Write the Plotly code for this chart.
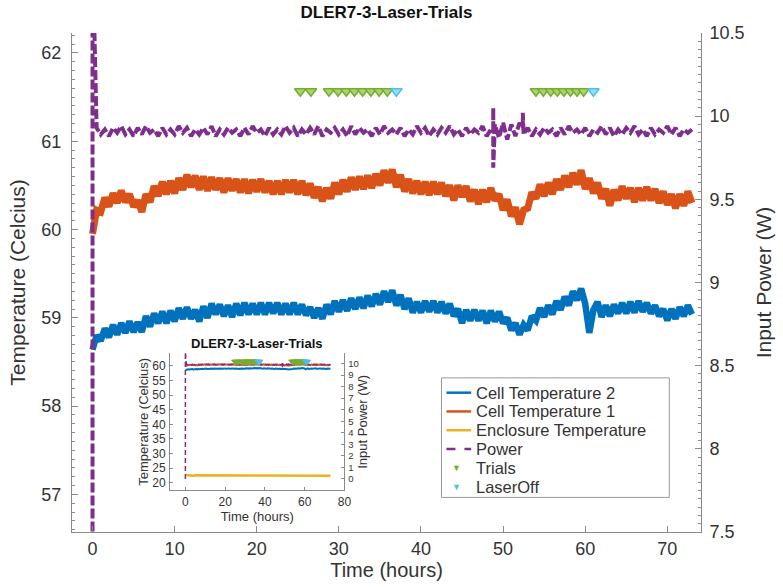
import plotly.graph_objects as go

# ---------------- data ----------------
step_h = 0.5  # sampling of the typed series, hours

cell_temp_1 = [
    59.95, 60.22, 60.20, 60.36, 60.26, 60.41, 60.30, 60.44, 60.31, 60.40,
    60.26, 60.33, 60.20, 60.40, 60.31, 60.49, 60.38, 60.54, 60.40, 60.55,
    60.41, 60.58, 60.45, 60.62, 60.48, 60.61, 60.45, 60.60, 60.44, 60.59,
    60.45, 60.58, 60.42, 60.58, 60.44, 60.57, 60.42, 60.57, 60.41, 60.56,
    60.43, 60.57, 60.42, 60.55, 60.40, 60.55, 60.40, 60.56, 60.42, 60.56,
    60.40, 60.55, 60.39, 60.52, 60.36, 60.48, 60.32, 60.47, 60.35, 60.53,
    60.40, 60.56, 60.43, 60.59, 60.45, 60.60, 60.46, 60.61, 60.47, 60.63,
    60.50, 60.67, 60.53, 60.68, 60.48, 60.62, 60.43, 60.57, 60.41, 60.55,
    60.40, 60.54, 60.39, 60.54, 60.40, 60.53, 60.38, 60.50, 60.33, 60.50,
    60.37, 60.49, 60.32, 60.45, 60.29, 60.45, 60.31, 60.47, 60.33, 60.40,
    60.22, 60.34, 60.15, 60.25, 60.06, 60.22, 60.24, 60.42, 60.35, 60.51,
    60.38, 60.53, 60.40, 60.57, 60.45, 60.61, 60.48, 60.64, 60.51, 60.67,
    60.46, 60.58, 60.41, 60.53, 60.35, 60.46, 60.27, 60.45, 60.33, 60.49,
    60.35, 60.47, 60.31, 60.47, 60.33, 60.48, 60.33, 60.46, 60.30, 60.43,
    60.28, 60.40, 60.24, 60.40, 60.27, 60.43, 60.30,
]

cell_temp_2 = [
    58.64, 58.80, 58.74, 58.88, 58.78, 58.92, 58.81, 58.94, 58.83, 58.96,
    58.84, 58.95, 58.84, 59.02, 58.90, 59.05, 58.94, 59.07, 58.94, 59.08,
    58.96, 59.11, 58.99, 59.12, 58.99, 59.09, 58.96, 59.13, 59.00, 59.16,
    59.04, 59.15, 59.02, 59.14, 59.01, 59.16, 59.03, 59.17, 59.04, 59.16,
    59.04, 59.17, 59.04, 59.17, 59.05, 59.17, 59.04, 59.16, 59.04, 59.17,
    59.04, 59.15, 59.03, 59.12, 59.00, 59.11, 58.99, 59.15, 59.04, 59.19,
    59.07, 59.20, 59.08, 59.22, 59.10, 59.23, 59.11, 59.25, 59.13, 59.27,
    59.15, 59.30, 59.18, 59.31, 59.14, 59.26, 59.10, 59.22, 59.06, 59.18,
    59.06, 59.19, 59.07, 59.19, 59.06, 59.18, 59.05, 59.16, 59.02, 59.10,
    58.94, 59.09, 58.97, 59.09, 58.97, 59.08, 58.94, 59.08, 58.96, 59.07,
    58.94, 59.00, 58.86, 58.94, 58.81, 58.92, 58.86, 59.02, 58.97, 59.11,
    59.01, 59.14, 59.04, 59.19, 59.09, 59.24, 59.14, 59.30, 59.20, 59.33,
    59.16, 58.83, 59.09, 59.18, 59.01, 59.14, 59.02, 59.15, 59.05, 59.17,
    59.05, 59.18, 59.06, 59.19, 59.07, 59.17, 59.05, 59.14, 59.02, 59.10,
    58.97, 59.10, 58.99, 59.12, 59.02, 59.14, 59.04,
]

enclosure_step_h = 1.0
enclosure_temp = [
    22.6, 22.5, 22.5, 22.4, 22.4, 22.5, 22.5, 22.4, 22.4, 22.3,
    22.3, 22.4, 22.4, 22.5, 22.5, 22.5, 22.4, 22.4, 22.3, 22.3,
    22.4, 22.4, 22.5, 22.5, 22.5, 22.4, 22.4, 22.4, 22.3, 22.3,
    22.4, 22.4, 22.5, 22.5, 22.5, 22.5, 22.4, 22.4, 22.3, 22.3,
    22.4, 22.4, 22.5, 22.5, 22.4, 22.4, 22.4, 22.3, 22.3, 22.4,
    22.4, 22.5, 22.5, 22.5, 22.4, 22.4, 22.3, 22.3, 22.4, 22.4,
    22.5, 22.5, 22.4, 22.4, 22.4, 22.3, 22.3, 22.4, 22.4, 22.5,
    22.5, 22.4, 22.4, 22.4,
]

# power sampled every 0.5 h starting at 0.5 h
power_w = [
    9.93, 9.89, 9.92, 9.88, 9.93, 9.90, 9.94, 9.89, 9.92, 9.88,
    9.93, 9.89, 9.94, 9.90, 9.92, 9.88, 9.93, 9.89, 9.92, 9.89,
    9.94, 9.90, 9.93, 9.88, 9.92, 9.89, 9.93, 9.89, 9.94, 9.88,
    9.92, 9.89, 9.93, 9.90, 9.92, 9.88, 9.93, 9.89, 9.94, 9.90,
    9.92, 9.88, 9.93, 9.89, 9.92, 9.89, 9.94, 9.90, 9.93, 9.88,
    9.92, 9.89, 9.93, 9.89, 9.94, 9.88, 9.92, 9.90, 9.93, 9.89,
    9.92, 9.88, 9.94, 9.89, 9.93, 9.90, 9.92, 9.88, 9.93, 9.89,
    9.94, 9.90, 9.92, 9.89, 9.93, 9.88, 9.92, 9.89, 9.94, 9.90,
    9.93, 9.88, 9.92, 9.89, 9.93, 9.90, 9.94, 9.89, 9.92, 9.88,
    9.93, 9.89, 9.92, 9.90, 9.94, 9.88, 9.92,
    9.95, 9.87, 9.96, 9.86, 9.95, 9.88, 9.96,
    9.89, 9.93, 9.88, 9.92, 9.89, 9.93, 9.90, 9.92, 9.88, 9.93,
    9.89, 9.94, 9.90, 9.92, 9.89, 9.93, 9.88, 9.92, 9.90, 9.94,
    9.89, 9.93, 9.88, 9.92, 9.89, 9.93, 9.90, 9.94, 9.89, 9.92,
    9.88, 9.93, 9.89, 9.92, 9.90, 9.94, 9.89, 9.93, 9.88, 9.92,
    9.90, 9.92,
]
# switch-on and glitch events in the power record
power_event_time = [0.0, 0.0, 48.8, 48.8, 48.8, 52.4, 52.4]
power_event_w = [0.0, 11.0, 9.91, 10.05, 9.69, 9.93, 10.02]

trials_time = [25.3, 26.6, 28.8, 29.9, 30.9, 31.9, 32.9, 33.9, 34.9, 35.9,
               54.0, 54.9, 55.8, 56.6, 57.4, 58.2, 59.0, 59.8]
laseroff_time = [37.0, 61.0]
marker_level_w = 10.15

legend_labels = ["Cell Temperature 2", "Cell Temperature 1", "Enclosure Temperature",
                 "Power", "Trials", "LaserOff"]

# ---------------- derived series ----------------
t_temp1 = [i * step_h for i in range(len(cell_temp_1))]
t_temp2 = [i * step_h for i in range(len(cell_temp_2))]
t_encl = [i * enclosure_step_h for i in range(len(enclosure_temp))]
t_pow_grid = [(i + 1) * step_h for i in range(len(power_w))]
pw = sorted(list(zip(power_event_time, power_event_w)) + list(zip(t_pow_grid, power_w)),
            key=lambda p: p[0])
t_power = [p[0] for p in pw]
v_power = [p[1] for p in pw]

C_BLUE = "#0072BD"
C_ORANGE = "#D95319"
C_YELLOW = "#EDB120"
C_PURPLE = "#7E2F8E"
C_GREEN = "#77AC30"
C_CYAN = "#4DBEEE"
F_GREEN = "#A6D66B"
F_CYAN = "#9ADDF7"
TXT = "#333333"
AX = "#8a8a8a"
FONT = "Liberation Sans, Arial, sans-serif"

# plot area in pixels (for placing the legend box / inset)
W, H = 783, 587
ML, MR, MT, MB = 72, 76, 33, 49
PW, PH = W - ML - MR, H - MT - MB


def px(xp):
    return (xp - ML) / PW


def py(yp):
    return (H - MB - yp) / PH


fig = go.Figure()

# ---- main axes ----
fig.add_trace(go.Scatter(x=t_temp2, y=cell_temp_2, mode="lines", name=legend_labels[0],
                         line=dict(color=C_BLUE, width=6.5), xaxis="x", yaxis="y"))
fig.add_trace(go.Scatter(x=t_temp1, y=cell_temp_1, mode="lines", name=legend_labels[1],
                         line=dict(color=C_ORANGE, width=7), xaxis="x", yaxis="y"))
fig.add_trace(go.Scatter(x=t_encl, y=enclosure_temp, mode="lines", name=legend_labels[2],
                         line=dict(color=C_YELLOW, width=3), xaxis="x", yaxis="y"))
fig.add_trace(go.Scatter(x=t_power, y=v_power, mode="lines", name=legend_labels[3],
                         line=dict(color=C_PURPLE, width=4, dash="10px,3px"),
                         xaxis="x", yaxis="y2"))
fig.add_trace(go.Scatter(x=trials_time, y=[marker_level_w] * len(trials_time), mode="markers",
                         name=legend_labels[4],
                         marker=dict(symbol="triangle-down", size=10, color=F_GREEN,
                                     line=dict(color=C_GREEN, width=1.5)),
                         xaxis="x", yaxis="y2"))
fig.add_trace(go.Scatter(x=laseroff_time, y=[marker_level_w] * len(laseroff_time), mode="markers",
                         name=legend_labels[5],
                         marker=dict(symbol="triangle-down", size=10, color=F_CYAN,
                                     line=dict(color=C_CYAN, width=1.5)),
                         xaxis="x", yaxis="y2"))

# ---- inset axes ----
fig.add_trace(go.Scatter(x=t_temp2, y=cell_temp_2, mode="lines", showlegend=False,
                         line=dict(color=C_BLUE, width=2), xaxis="x2", yaxis="y3"))
fig.add_trace(go.Scatter(x=t_temp1, y=cell_temp_1, mode="lines", showlegend=False,
                         line=dict(color=C_ORANGE, width=2), xaxis="x2", yaxis="y3"))
fig.add_trace(go.Scatter(x=t_encl, y=enclosure_temp, mode="lines", showlegend=False,
                         line=dict(color=C_YELLOW, width=2.5), xaxis="x2", yaxis="y3"))
fig.add_trace(go.Scatter(x=t_power, y=v_power, mode="lines", showlegend=False,
                         line=dict(color=C_PURPLE, width=1.5, dash="5px,3px"),
                         xaxis="x2", yaxis="y4"))
fig.add_trace(go.Scatter(x=trials_time, y=[marker_level_w] * len(trials_time), mode="markers",
                         showlegend=False,
                         marker=dict(symbol="triangle-down", size=7, color=C_GREEN,
                                     line=dict(color=C_GREEN, width=1)),
                         xaxis="x2", yaxis="y4"))
fig.add_trace(go.Scatter(x=laseroff_time, y=[marker_level_w] * len(laseroff_time), mode="markers",
                         showlegend=False,
                         marker=dict(symbol="triangle-down", size=7, color=C_CYAN,
                                     line=dict(color=C_CYAN, width=1)),
                         xaxis="x2", yaxis="y4"))

# ---- legend box (MATLAB-style compact legend) ----
box_l, box_r, box_t, box_b = 445, 675, 382, 503
row_y = [397, 416, 435, 454, 473, 492]
shapes = [dict(type="rect", xref="paper", yref="paper", x0=px(box_l), x1=px(box_r),
               y0=py(box_b), y1=py(box_t), line=dict(color="#9a9a9a", width=1),
               fillcolor="white", layer="above")]
line_styles = [(C_BLUE, "solid"), (C_ORANGE, "solid"), (C_YELLOW, "solid"), (C_PURPLE, "dash")]
for (col, dsh), yy in zip(line_styles, row_y[:4]):
    shapes.append(dict(type="line", xref="paper", yref="paper", x0=px(450), x1=px(475),
                       y0=py(yy), y1=py(yy), line=dict(color=col, width=2.5, dash=dsh),
                       layer="above"))
annotations = []
for lab, yy in zip(legend_labels, row_y):
    annotations.append(dict(text=lab, xref="paper", yref="paper", x=px(478), y=py(yy),
                            xanchor="left", yanchor="middle", showarrow=False,
                            font=dict(size=16.5, color=TXT, family=FONT)))
# legend marker samples
annotations.append(dict(text="▼", xref="paper", yref="paper", x=px(460), y=py(row_y[4]),
                        xanchor="center", yanchor="middle", showarrow=False,
                        font=dict(size=9, color=C_GREEN)))
annotations.append(dict(text="▼", xref="paper", yref="paper", x=px(460), y=py(row_y[5]),
                        xanchor="center", yanchor="middle", showarrow=False,
                        font=dict(size=9, color=C_CYAN)))
# inset title
annotations.append(dict(text="<b>DLER7-3-Laser-Trials</b>", xref="paper", yref="paper",
                        x=px(259), y=py(347), xanchor="center", yanchor="middle",
                        showarrow=False, font=dict(size=13, color="#111111", family=FONT)))

axis_common = dict(showline=True, linecolor=AX, linewidth=1, ticks="inside", tickcolor=AX,
                   showgrid=False, zeroline=False, tickfont=dict(size=18, color=TXT))
inset_common = dict(showline=True, linecolor=AX, linewidth=1, ticks="inside", tickcolor=AX,
                    ticklen=3, showgrid=False, zeroline=False,
                    tickfont=dict(size=12, color=TXT))

fig.update_layout(
    width=W, height=H,
    margin=dict(l=ML, r=MR, t=MT, b=MB),
    paper_bgcolor="white", plot_bgcolor="white",
    font=dict(family=FONT, color=TXT),
    showlegend=False,
    title=dict(text="<b>DLER7-3-Laser-Trials</b>", x=0.5, xref="paper", xanchor="center",
               y=1 - 12 / H, yanchor="middle", font=dict(size=17, color="#111111")),
    xaxis=dict(axis_common, range=[-2.5, 74.1], tickvals=[0, 10, 20, 30, 40, 50, 60, 70],
               ticklen=6, title=dict(text="Time (hours)", font=dict(size=20, color=TXT), standoff=2),
               domain=[0, 1]),
    yaxis=dict(axis_common, range=[56.575, 62.225], dtick=1, ticklen=6, ticklabelstandoff=6,
               minor=dict(ticks="inside", dtick=0.1, ticklen=3, tickcolor=AX),
               title=dict(text="Temperature (Celcius)", font=dict(size=21, color=TXT), standoff=10)),
    yaxis2=dict(axis_common, overlaying="y", side="right", anchor="x", range=[7.5, 10.5],
                dtick=0.5, ticklen=6, ticklabelstandoff=4,
                minor=dict(ticks="inside", dtick=0.05, ticklen=3, tickcolor=AX),
                title=dict(text="Input Power (W)", font=dict(size=21, color=TXT), standoff=12)),
    xaxis2=dict(inset_common, domain=[px(171), px(347)], anchor="y3",
                range=[-7.7, 80], tickvals=[0, 20, 40, 60, 80],
                title=dict(text="Time (hours)", font=dict(size=13, color=TXT), standoff=0)),
    yaxis3=dict(inset_common, domain=[py(496), py(357)], anchor="x2",
                range=[17.3, 64.4], tickvals=[20, 25, 30, 35, 40, 45, 50, 55, 60],
                ticklabelstandoff=1,
                title=dict(text="Temperature (Celcius)", font=dict(size=13, color=TXT), standoff=0)),
    yaxis4=dict(inset_common, overlaying="y3", side="right", anchor="x2",
                range=[-1.0, 10.9], tickvals=list(range(0, 11)), ticklabelstandoff=1,
                tickfont=dict(size=9.5, color=TXT),
                title=dict(text="Input Power (W)", font=dict(size=13, color=TXT), standoff=0)),
    shapes=shapes,
    annotations=annotations,
)

fig.write_html("out.html")
